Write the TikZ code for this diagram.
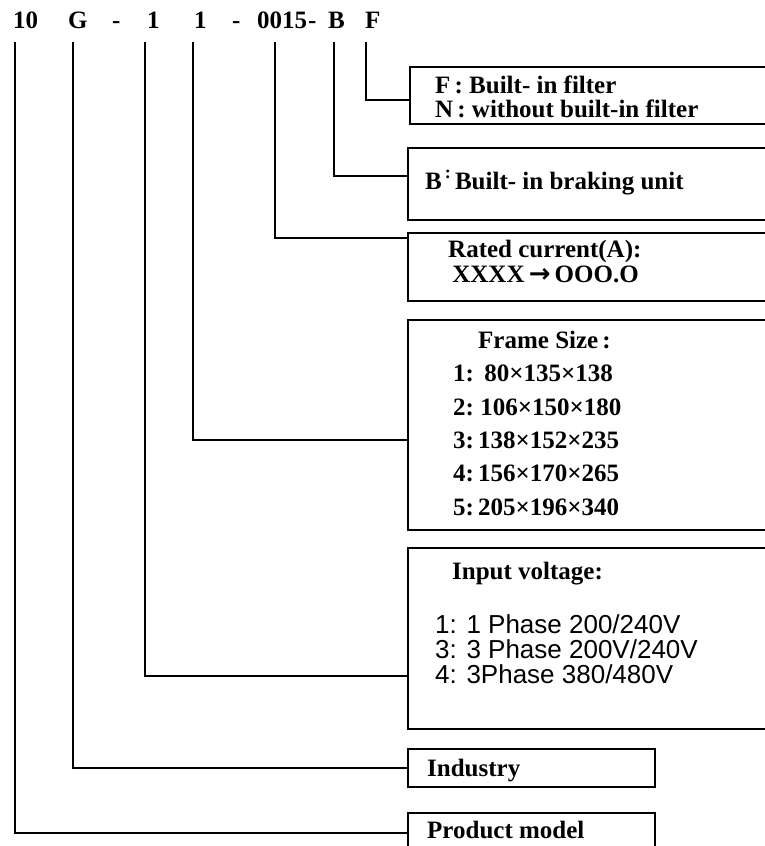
\documentclass[tikz,border=0pt]{standalone}
\usepackage{fontspec}
\setmainfont{Liberation Serif}
\newfontfamily\arialfont{Liberation Sans}
\newfontfamily\arrowfont{DejaVu Sans}
\usetikzlibrary{positioning}
\tikzset{
  codech/.style={font=\fontsize{25}{25}\selectfont\bfseries,anchor=base west,inner sep=0pt},
  optbox/.style={draw,line width=1.6pt,anchor=north west,minimum width=420pt,inner sep=0pt},
  shortbox/.style={optbox,minimum width=247pt},
  opttext/.style={font=\fontsize{25}{24}\selectfont\bfseries,anchor=base west,align=left,inner sep=0pt},
  listtext/.style={opttext,font=\fontsize{25}{33.3}\selectfont\bfseries},
  volttext/.style={opttext,font=\fontsize{26}{25}\selectfont\arialfont},
  link/.style={line width=1.6pt},
}

\begin{document}
\begin{tikzpicture}[x=1pt,y=-1pt]
  \clip (0,0) rectangle (765,846);
  % model code
  \node[codech] (h10) at (13,28) {10};
  \node[codech] (hG) at (68,28) {G};
  \node[codech] (hd1) at (112,28) {-};
  \node[codech] (hV) at (147,28) {1};
  \node[codech] (hS) at (194,28) {1};
  \node[codech] (hd2) at (232,28) {-};
  \node[codech] (hA) at (257,28) {0015};
  \node[codech] (hd3) at (308,28) {-};
  \node[codech] (hB) at (328,28) {B};
  \node[codech] (hF) at (365,28) {F};
  \coordinate (t10) at (15,42);
  \coordinate (tG) at (73,42);
  \coordinate (tV) at (145,42);
  \coordinate (tS) at (193,42);
  \coordinate (tA) at (275,42);
  \coordinate (tB) at (334,42);
  \coordinate (tF) at (366,42);

  % option boxes
  \node[optbox,minimum height=57pt] (filt) at (409,66) {};
  \node[optbox,minimum height=72pt] (brake) at (407,147) {};
  \node[optbox,minimum height=68pt] (curr) at (407,232) {};
  \node[optbox,minimum height=210pt] (frame) at (407,319) {};
  \node[optbox,minimum height=181pt] (volt) at (407,547) {};
  \node[shortbox,minimum height=38pt] (ind) at (407,748) {};
  \node[shortbox,minimum height=60pt] (model) at (407,812) {};

  % texts (multi-line nodes sit on their last baseline)
  \node[opttext] (filtx) at (435,117) {F\,: Built- in filter\\N\,: without built-in filter};
  \node[opttext] (brakex) at (425,189) {B\raisebox{11pt}{\fontsize{18}{18}\selectfont\,:}\,Built- in braking unit};
  \node[opttext] (currx) at (448,282) {Rated current(A):\\[1pt]\,XXXX\,{\arrowfont\fontsize{26}{24}\selectfont →}\,OOO.O};
  \node[opttext] (framex) at (478,348) {Frame Size\,:};
  \node[listtext] (framel) at (453,515) {1:\,\ 80×135×138\\2:\ 106×150×180\\3:\,138×152×235\\4:\,156×170×265\\5:\,205×196×340};
  \node[opttext] (voltx) at (452,579) {Input voltage:};
  \node[volttext] (voltl) at (435,683) {1: 1 Phase 200/240V\\3: 3 Phase 200V/240V\\4: 3Phase 380/480V};
  \node[opttext] (indx) at (427,776) {Industry};
  \node[opttext] (modelx) at (427,838) {Product model};

  % links
  \draw[link] (tF) |- ([yshift=-34pt]filt.north west);
  \draw[link] (tB) |- ([yshift=-29pt]brake.north west);
  \draw[link] (tA) |- ([yshift=-6pt]curr.north west);
  \draw[link] (tS) |- ([yshift=-121pt]frame.north west);
  \draw[link] (tV) |- ([yshift=-129pt]volt.north west);
  \draw[link] (tG) |- ([yshift=-20pt]ind.north west);
  \draw[link] (t10) |- ([yshift=-21pt]model.north west);
\end{tikzpicture}
\end{document}
